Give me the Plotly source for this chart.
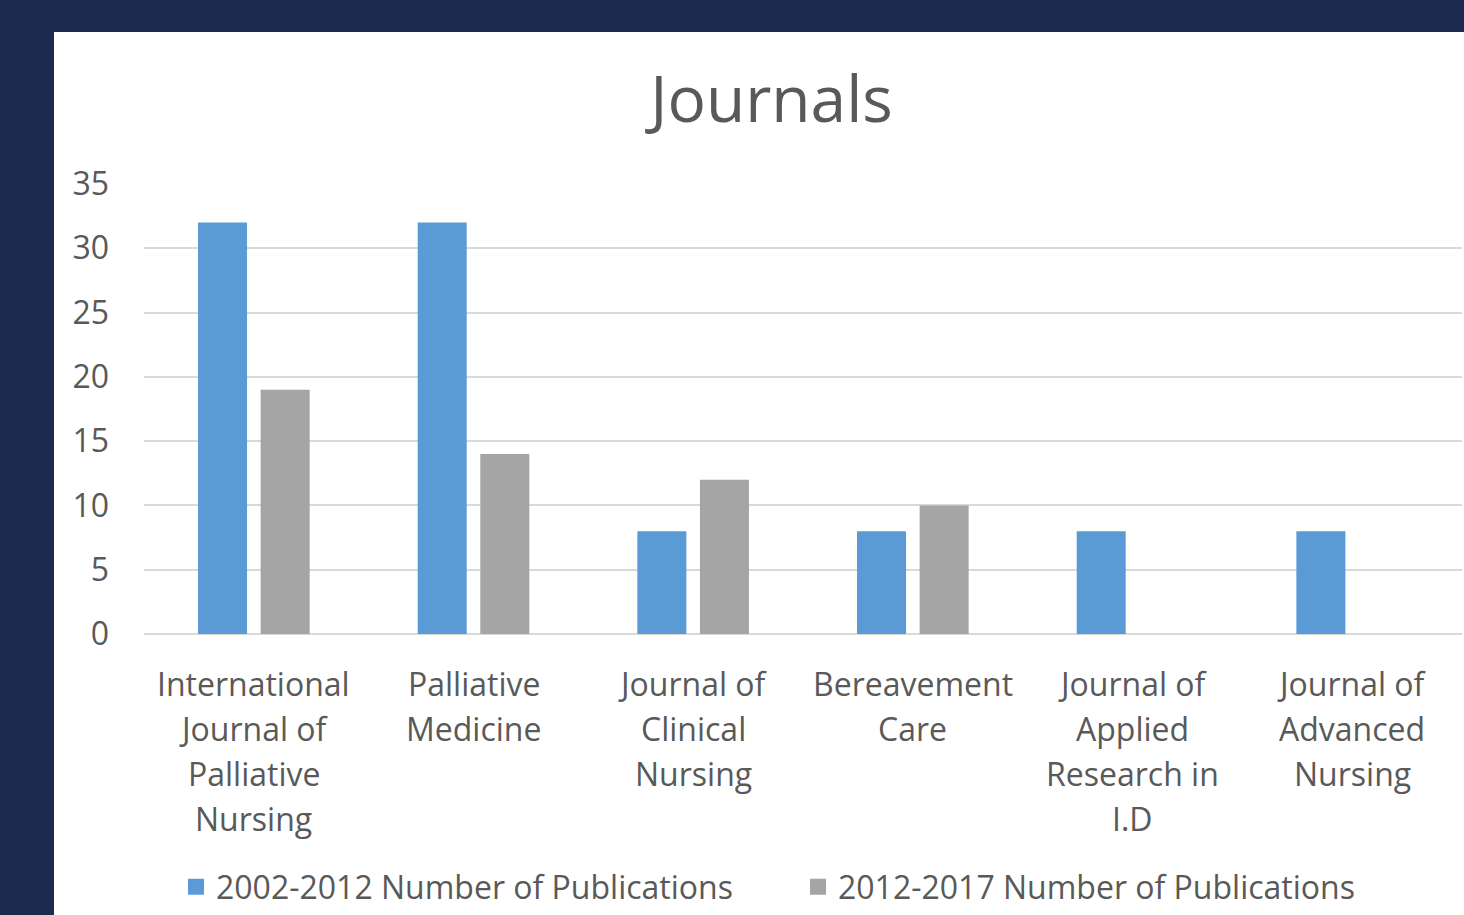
import plotly.graph_objects as go

categories = ["International Journal of Palliative Nursing", "Palliative Medicine",
              "Journal of Clinical Nursing", "Bereavement Care",
              "Journal of Applied Research in I.D", "Journal of Advanced Nursing"]
category_lines = [["International", "Journal of", "Palliative", "Nursing"],
                  ["Palliative", "Medicine"],
                  ["Journal of", "Clinical", "Nursing"],
                  ["Bereavement", "Care"],
                  ["Journal of", "Applied", "Research in", "I.D"],
                  ["Journal of", "Advanced", "Nursing"]]
series1_name = "2002-2012 Number of Publications"
series2_name = "2012-2017 Number of Publications"
series1 = [32, 32, 8, 8, 8, 8]
series2 = [19, 14, 12, 10, 0, 0]
y_ticks = [0, 5, 10, 15, 20, 25, 30, 35]
colors = ["#5B9BD5", "#A5A5A5"]

FONT = "Open Sans"
TXT = "#595959"
NAVY = "#1b2a4e"
FS = 32

fig = go.Figure()
for name, vals, col in [(series1_name, series1, colors[0]), (series2_name, series2, colors[1])]:
    fig.add_trace(go.Bar(x=categories, y=vals, name=name, marker_color=col,
                         marker_line_width=0, showlegend=False))
for name, col in [(series1_name, colors[0]), (series2_name, colors[1])]:
    fig.add_trace(go.Scatter(x=[None], y=[None], mode="markers", name=name,
                             marker=dict(symbol="square", size=19, color=col)))

W, H = 1464, 915
ml, mr, mt, mb = 144, 2, 184, 281

annotations = []
for cat, lines in zip(categories, category_lines):
    for i, ln in enumerate(lines):
        annotations.append(dict(x=cat, xref="x", y=0, yref="paper", text=ln, showarrow=False,
                                yanchor="middle", xanchor="center", yshift=-49 - 45 * i,
                                font=dict(family=FONT, size=FS, color=TXT)))

fig.update_layout(
    width=W, height=H,
    margin=dict(l=ml, r=mr, t=mt, b=mb, autoexpand=False),
    paper_bgcolor=NAVY, plot_bgcolor="white",
    barmode="group", bargap=0.43, bargroupgap=0.217,
    title=dict(text="Journals", x=0.527, xanchor="center", y=1 - 100 / H, yanchor="middle",
               yref="container", font=dict(family=FONT, size=64, color=TXT)),
    xaxis=dict(showticklabels=False, showgrid=False, showline=False, zeroline=False,
               ticks=""),
    yaxis=dict(range=[0, 35], tickvals=y_ticks, showgrid=True, gridcolor="#d9d9d9",
               gridwidth=2, zeroline=True, zerolinecolor="#d9d9d9", zerolinewidth=2,
               showline=False, ticks="", ticklabelstandoff=34,
               tickfont=dict(family=FONT, size=FS, color=TXT)),
    legend=dict(orientation="h", x=(190 - ml - 14) / (W - ml - mr), xanchor="left",
                y=-253 / 450, yanchor="middle",
                font=dict(family=FONT, size=FS, color=TXT), bgcolor="rgba(0,0,0,0)",
                itemwidth=30, entrywidth=577, entrywidthmode="pixels"),
    annotations=annotations,
    shapes=[dict(type="rect", xref="paper", yref="paper", layer="below",
                 x0=(54 - ml) / (W - ml - mr), x1=1.01,
                 y0=-mb / (H - mt - mb) - 0.01, y1=(H - 32 - mb) / (H - mt - mb),
                 fillcolor="white", line_width=0)],
    showlegend=True,
)

fig.write_html("out.html")
